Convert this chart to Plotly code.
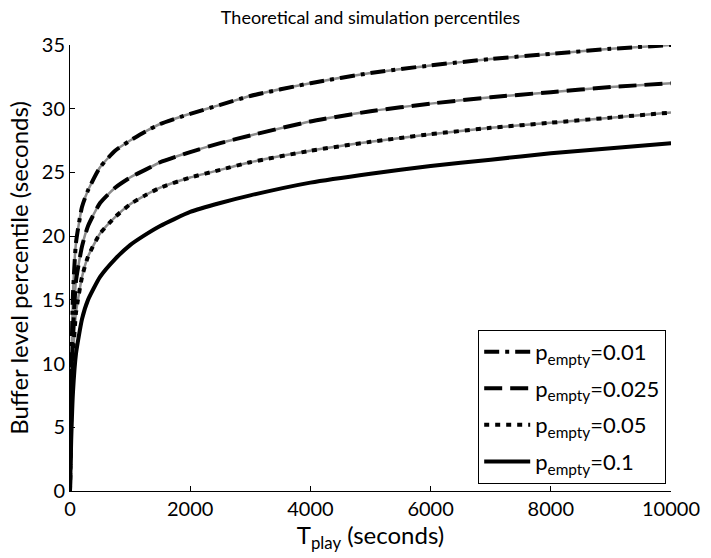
import plotly.graph_objects as go

T_play = [0, 20, 50, 100, 200, 300, 500, 750, 1000, 1250, 1500, 2000, 2500, 3000,
          4000, 5000, 6000, 7000, 8000, 9000, 10000]

p_001 = [0, 9.0, 15.5, 19.5, 22.3, 23.6, 25.4, 26.7, 27.5, 28.2, 28.8, 29.6, 30.3, 31.0,
         32.0, 32.8, 33.4, 33.9, 34.3, 34.7, 35.0]
p_0025 = [0, 7.0, 12.5, 16.5, 19.2, 20.8, 22.6, 23.8, 24.6, 25.2, 25.8, 26.6, 27.3, 27.9,
          29.0, 29.8, 30.4, 30.9, 31.3, 31.7, 32.0]
p_005 = [0, 6.0, 10.5, 14.0, 16.8, 18.4, 20.2, 21.5, 22.5, 23.2, 23.8, 24.6, 25.2, 25.8,
         26.7, 27.4, 28.0, 28.5, 28.9, 29.3, 29.7]
p_01 = [0, 4.0, 7.8, 10.8, 13.5, 15.0, 16.8, 18.2, 19.3, 20.1, 20.8, 21.9, 22.6, 23.2,
        24.2, 24.9, 25.5, 26.0, 26.5, 26.9, 27.3]

labels = ["p<sub>empty</sub>=0.01", "p<sub>empty</sub>=0.025",
          "p<sub>empty</sub>=0.05", "p<sub>empty</sub>=0.1"]
series = [p_001, p_0025, p_005, p_01]
dashes = ["15px,6px,4px,6px", "18px,8px", "5px,6px", "solid"]
x_ticks = [0, 2000, 4000, 6000, 8000, 10000]
y_ticks = [0, 5, 10, 15, 20, 25, 30, 35]

FONT = "Lato"
fig = go.Figure()

for s in series:
    fig.add_trace(go.Scatter(x=T_play, y=s, mode="lines", showlegend=False,
                             line=dict(color="#8c8c8c", width=2.5, shape="spline", smoothing=0.5),
                             hoverinfo="skip"))
for i, (s, lab, d) in enumerate(zip(series, labels, dashes)):
    fig.add_trace(go.Scatter(x=T_play, y=s, mode="lines", name=lab, legendgroup=f"g{i}",
                             line=dict(color="black", width=4, dash=d, shape="spline", smoothing=0.5)))

fig.update_layout(
    width=711, height=558,
    margin=dict(l=70, r=40, t=45, b=67),
    paper_bgcolor="white", plot_bgcolor="white",
    font=dict(family=FONT, size=20, color="black"),
    title=dict(text="Theoretical and simulation percentiles", x=0.5, xref="paper",
               y=0.968, yanchor="middle", font=dict(size=18)),
    showlegend=True,
    legend=dict(x=0.992, y=0.016, xanchor="right", yanchor="bottom",
                bordercolor="black", borderwidth=1, bgcolor="white",
                font=dict(size=22), tracegroupgap=5, itemwidth=46),
)
fig.update_xaxes(range=[0, 10000], tickvals=x_ticks, ticktext=[str(v) for v in x_ticks],
                 showgrid=False, zeroline=False,
                 showline=True, linecolor="black", linewidth=1,
                 ticks="inside", ticklen=5, tickcolor="black",
                 title=dict(text="T<sub>play</sub> (seconds)", standoff=2))
fig.update_yaxes(range=[0, 35], tickvals=y_ticks, ticktext=[str(v) for v in y_ticks],
                 showgrid=False, zeroline=False,
                 showline=True, linecolor="black", linewidth=1,
                 ticks="inside", ticklen=5, tickcolor="black",
                 title=dict(text="Buffer level percentile (seconds)", standoff=6))

fig.write_html("out.html")
